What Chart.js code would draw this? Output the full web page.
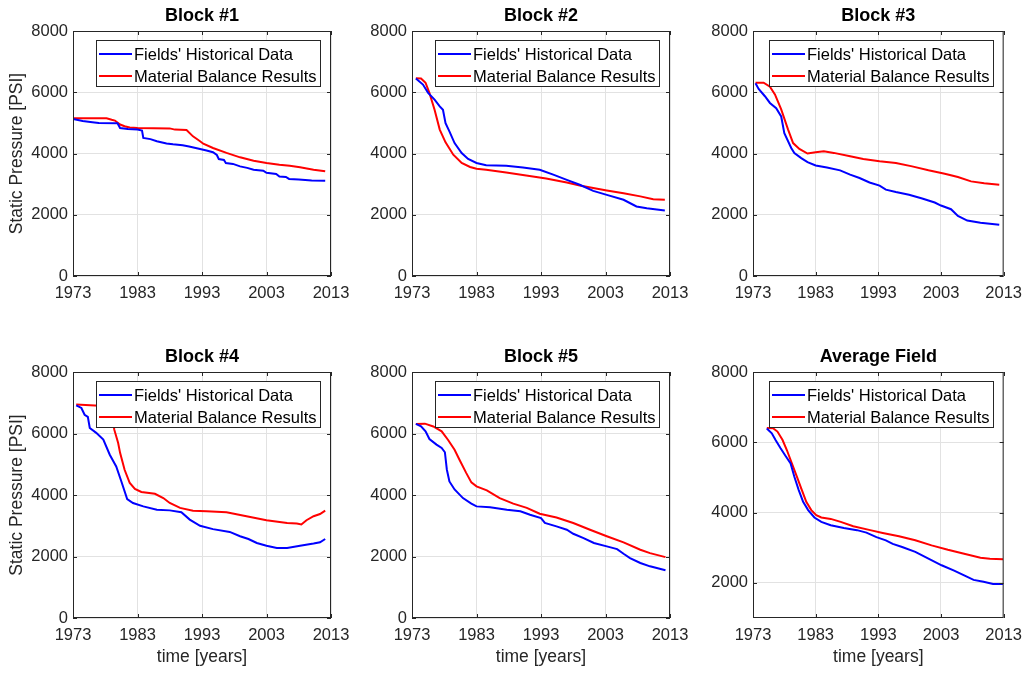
<!DOCTYPE html>
<html>
<head>
<meta charset="utf-8">
<script src="https://cdn.jsdelivr.net/npm/chart.js@4.4.1/dist/chart.umd.min.js"></script>
<style>
  html, body { margin: 0; padding: 0; background: #fff; overflow: hidden; }
  #figure { position: relative; width: 1030px; height: 673px; }
  #figure canvas { position: absolute; left: 0; top: 0; }
</style>
</head>
<body>
<div id="figure"></div>
<script>
const yearTicks = [1973, 1983, 1993, 2003, 2013];
const psiTicks = [0, 2000, 4000, 6000, 8000];
const psiTicksAvg = [2000, 4000, 6000, 8000];
const seriesNames = ["Fields' Historical Data", "Material Balance Results"];
const panelTitles = ["Block #1", "Block #2", "Block #3", "Block #4", "Block #5", "Average Field"];

// Block #1
const block1HistYears = [1973.0, 1974.5, 1976.0, 1977.0, 1979.9, 1980.3, 1981.5, 1983.0, 1983.7, 1983.9, 1985.0, 1986.0, 1987.5, 1988.5, 1990.0, 1991.0, 1992.7, 1993.7, 1994.7, 1995.3, 1995.6, 1996.4, 1996.7, 1997.8, 1998.9, 2000.0, 2001.0, 2002.5, 2003.0, 2004.5, 2005.0, 2006.0, 2006.5, 2008.0, 2010.0, 2012.1];
const block1HistPsi = [5130, 5060, 5020, 4995, 4990, 4830, 4800, 4780, 4750, 4510, 4470, 4400, 4330, 4300, 4270, 4230, 4150, 4100, 4040, 3950, 3820, 3790, 3690, 3660, 3580, 3530, 3470, 3440, 3370, 3330, 3250, 3235, 3170, 3150, 3120, 3110];
const block1MbYears = [1973.0, 1978.2, 1979.0, 1979.5, 1980.3, 1981.0, 1981.8, 1983.0, 1988.0, 1988.8, 1990.6, 1991.6, 1992.7, 1993.2, 1994.7, 1996.8, 1998.9, 2001.0, 2003.0, 2005.0, 2006.6, 2008.2, 2010.3, 2012.1];
const block1MbPsi = [5150, 5150, 5100, 5075, 4945, 4890, 4850, 4835, 4820, 4780, 4770, 4560, 4400, 4320, 4180, 4020, 3875, 3765, 3690, 3635, 3600, 3550, 3470, 3420];

// Block #2
const block2HistYears = [1973.6, 1974.7, 1975.5, 1976.5, 1977.3, 1977.8, 1978.2, 1978.8, 1979.6, 1980.7, 1981.7, 1983.0, 1984.5, 1987.6, 1990.2, 1992.8, 1994.9, 1997.0, 1999.0, 2001.1, 2003.2, 2005.8, 2007.8, 2009.4, 2012.2];
const block2HistPsi = [6450, 6250, 5980, 5760, 5540, 5430, 4990, 4720, 4340, 4015, 3820, 3690, 3620, 3600, 3545, 3470, 3310, 3140, 2980, 2780, 2650, 2490, 2270, 2210, 2140];
const block2MbYears = [1973.6, 1974.4, 1975.1, 1975.7, 1976.5, 1977.3, 1978.2, 1979.4, 1980.7, 1982.0, 1983.0, 1984.5, 1987.6, 1990.7, 1993.8, 1997.0, 1999.0, 2001.1, 2003.2, 2005.8, 2008.4, 2010.4, 2012.2];
const block2MbPsi = [6460, 6450, 6310, 5980, 5430, 4780, 4365, 3960, 3690, 3560, 3500, 3470, 3380, 3285, 3185, 3055, 2955, 2870, 2795, 2705, 2600, 2510, 2490];

// Block #3
const block3HistYears = [1973.4, 1973.9, 1974.9, 1975.7, 1976.7, 1977.5, 1978.0, 1979.1, 1979.6, 1980.7, 1981.7, 1983.0, 1984.8, 1986.9, 1988.5, 1990.0, 1991.6, 1993.2, 1994.2, 1995.8, 1997.9, 2000.0, 2002.0, 2003.0, 2004.6, 2005.7, 2007.2, 2009.3, 2012.3];
const block3HistPsi = [6290, 6110, 5870, 5650, 5480, 5210, 4660, 4180, 4015, 3850, 3720, 3610, 3545, 3450, 3310, 3200, 3055, 2950, 2820, 2740, 2650, 2530, 2400, 2300, 2180, 1960, 1810, 1740, 1670];
const block3MbYears = [1973.4, 1974.7, 1975.7, 1976.5, 1977.5, 1978.6, 1979.4, 1980.4, 1981.7, 1983.0, 1984.3, 1985.9, 1988.5, 1990.6, 1993.2, 1995.8, 1998.4, 2001.0, 2003.6, 2005.7, 2007.8, 2009.9, 2012.3];
const block3MbPsi = [6310, 6310, 6180, 5930, 5440, 4780, 4340, 4150, 4000, 4040, 4070, 4020, 3910, 3820, 3745, 3690, 3580, 3450, 3340, 3230, 3090, 3030, 2980];

// Block #4
const block4HistYears = [1973.5, 1974.3, 1974.8, 1975.3, 1975.6, 1976.6, 1977.7, 1978.7, 1979.7, 1980.5, 1981.4, 1982.3, 1983.9, 1986.0, 1988.0, 1989.8, 1991.1, 1992.7, 1994.7, 1997.3, 1998.9, 2000.2, 2001.5, 2003.0, 2004.6, 2006.2, 2008.2, 2010.3, 2011.3, 2012.1];
const block4HistPsi = [6916, 6830, 6610, 6540, 6180, 6020, 5800, 5310, 4930, 4440, 3870, 3740, 3630, 3520, 3500, 3440, 3200, 3000, 2890, 2800, 2660, 2570, 2440, 2350, 2280, 2280, 2350, 2420, 2460, 2570];
const block4MbYears = [1973.5, 1977.1, 1978.4, 1979.0, 1979.4, 1980.0, 1980.3, 1981.0, 1981.8, 1982.6, 1983.6, 1985.7, 1987.0, 1988.0, 1989.6, 1991.6, 1993.7, 1996.8, 1999.9, 2003.0, 2006.2, 2007.7, 2008.4, 2009.2, 2010.3, 2011.3, 2012.1];
const block4MbPsi = [6940, 6905, 6880, 6700, 6125, 5690, 5370, 4820, 4390, 4200, 4100, 4040, 3900, 3740, 3580, 3490, 3470, 3440, 3310, 3180, 3090, 3070, 3040, 3180, 3310, 3380, 3490];

// Block #5
const block5HistYears = [1973.6, 1974.4, 1975.1, 1975.7, 1976.8, 1977.6, 1978.1, 1978.4, 1978.8, 1979.6, 1980.9, 1982.2, 1983.0, 1985.1, 1987.7, 1989.8, 1991.3, 1993.0, 1993.6, 1995.4, 1997.0, 1998.0, 1999.6, 2001.2, 2003.2, 2004.8, 2005.8, 2006.8, 2008.4, 2009.9, 2012.3];
const block5HistPsi = [6310, 6230, 6070, 5820, 5640, 5530, 5390, 4830, 4440, 4180, 3900, 3720, 3630, 3600, 3520, 3470, 3360, 3250, 3090, 2980, 2870, 2740, 2600, 2440, 2330, 2240, 2090, 1950, 1790, 1680, 1550];
const block5MbYears = [1973.6, 1975.0, 1976.3, 1977.6, 1978.6, 1979.6, 1980.4, 1981.4, 1982.2, 1983.0, 1984.6, 1986.6, 1988.7, 1990.8, 1992.8, 1995.4, 1998.0, 2000.6, 2003.2, 2005.8, 2008.4, 2009.9, 2012.3];
const block5MbPsi = [6310, 6320, 6230, 6070, 5790, 5470, 5130, 4720, 4410, 4280, 4150, 3900, 3720, 3580, 3390, 3270, 3090, 2870, 2660, 2460, 2220, 2110, 1980];

// Average Field
const avgHistYears = [1975.2, 1976.0, 1976.6, 1977.4, 1978.2, 1979.0, 1979.6, 1980.3, 1981.0, 1981.8, 1982.8, 1983.9, 1985.4, 1987.5, 1989.6, 1991.1, 1992.7, 1994.2, 1995.3, 1996.8, 1998.9, 2001.0, 2003.1, 2005.1, 2006.7, 2008.2, 2009.8, 2011.3, 2012.9];
const avgHistPsi = [6390, 6257, 6067, 5830, 5610, 5400, 5020, 4640, 4305, 4070, 3860, 3735, 3640, 3560, 3500, 3430, 3300, 3210, 3110, 3020, 2880, 2690, 2500, 2350, 2210, 2085, 2030, 1970, 1970];
const avgMbYears = [1975.2, 1976.2, 1976.9, 1977.7, 1978.4, 1979.2, 1980.0, 1980.8, 1981.5, 1982.3, 1983.1, 1983.9, 1985.4, 1987.0, 1989.0, 1991.7, 1993.7, 1996.3, 1998.9, 2001.5, 2004.1, 2006.7, 2009.3, 2010.8, 2012.9];
const avgMbPsi = [6410, 6400, 6305, 6070, 5780, 5400, 5020, 4640, 4305, 4070, 3925, 3860, 3820, 3735, 3610, 3500, 3420, 3325, 3210, 3067, 2940, 2830, 2715, 2685, 2675];

const panelSeries = [
    [block1HistYears, block1HistPsi, block1MbYears, block1MbPsi],
    [block2HistYears, block2HistPsi, block2MbYears, block2MbPsi],
    [block3HistYears, block3HistPsi, block3MbYears, block3MbPsi],
    [block4HistYears, block4HistPsi, block4MbYears, block4MbPsi],
    [block5HistYears, block5HistPsi, block5MbYears, block5MbPsi],
    [avgHistYears, avgHistPsi, avgMbYears, avgMbPsi]
];

// plot-box edges in page pixels
const columns = [{ left: 73, right: 331 }, { left: 412, right: 670 }, { left: 753, right: 1009 }];
const rows = [{ top: 31, bottom: 276 }, { top: 372, bottom: 618 }];

const AXIS_COLOR = "#262626";
const GRID_COLOR = "#e2e2e2";
const FONT = '"Liberation Sans", Arial, Helvetica, sans-serif';

Chart.defaults.font.family = FONT;
Chart.defaults.color = AXIS_COLOR;

// MATLAB-like box: frame, inward ticks, title, inset legend
const matlabFrame = {
    id: "matlabFrame",
    afterDraw(chart, args, opts) {
        const { ctx, chartArea, scales } = chart;
        const { left, right, top, bottom } = chartArea;
        ctx.save();

        ctx.strokeStyle = AXIS_COLOR;
        ctx.lineWidth = 1;
        ctx.beginPath();
        scales.x.ticks.forEach((t) => {
            const px = Math.round(scales.x.getPixelForValue(t.value)) + 0.5;
            ctx.moveTo(px, bottom);
            ctx.lineTo(px, bottom - 4);
            ctx.moveTo(px, top);
            ctx.lineTo(px, top + 4);
        });
        scales.y.ticks.forEach((t) => {
            const py = Math.round(scales.y.getPixelForValue(t.value)) + 0.5;
            ctx.moveTo(left, py);
            ctx.lineTo(left + 4, py);
            ctx.moveTo(right, py);
            ctx.lineTo(right - 4, py);
        });
        ctx.stroke();
        ctx.strokeRect(left + 0.5, top + 0.5, right - left - 1, bottom - top - 1);

        // title
        ctx.fillStyle = "#000";
        ctx.font = `bold 18px ${FONT}`;
        ctx.textAlign = "center";
        ctx.textBaseline = "middle";
        ctx.fillText(opts.title, (left + right) / 2, top - 15);

        // legend
        ctx.font = `16.5px ${FONT}`;
        const datasets = chart.data.datasets;
        const textW = Math.max(...datasets.map((d) => ctx.measureText(d.label).width));
        const boxW = Math.round(38 + textW + 4);
        const boxH = 46;
        const bx = Math.round(right - 11 - boxW);
        const by = Math.round(top + 9);
        ctx.fillStyle = "#fff";
        ctx.fillRect(bx, by, boxW, boxH);
        ctx.strokeStyle = AXIS_COLOR;
        ctx.strokeRect(bx + 0.5, by + 0.5, boxW, boxH);
        ctx.textAlign = "left";
        datasets.forEach((ds, i) => {
            const cy = by + 14 + i * 22;
            ctx.strokeStyle = ds.borderColor;
            ctx.lineWidth = 2;
            ctx.beginPath();
            ctx.moveTo(bx + 3, cy);
            ctx.lineTo(bx + 36, cy);
            ctx.stroke();
            ctx.fillStyle = "#000";
            ctx.fillText(ds.label, bx + 38, cy + 1);
        });
        ctx.restore();
    }
};

function toPoints(years, psi) {
    return years.map((x, i) => ({ x, y: psi[i] }));
}

function renderPanel(index) {
    const col = columns[index % 3];
    const row = rows[Math.floor(index / 3)];
    const isLeft = index % 3 === 0;
    const isBottom = index >= 3;
    const isAverage = index === 5;
    const yWidth = isLeft ? col.left : 60;
    const xHeight = isBottom ? 50 : 40;
    const [histYears, histPsi, mbYears, mbPsi] = panelSeries[index];

    const canvas = document.createElement("canvas");
    canvas.width = 1030;
    canvas.height = 673;
    document.getElementById("figure").appendChild(canvas);

    new Chart(canvas, {
        type: "line",
        data: {
            datasets: [
                { label: seriesNames[0], data: toPoints(histYears, histPsi), borderColor: "#0000ff", borderWidth: 2, pointRadius: 0, tension: 0 },
                { label: seriesNames[1], data: toPoints(mbYears, mbPsi), borderColor: "#ff0000", borderWidth: 2, pointRadius: 0, tension: 0 }
            ]
        },
        options: {
            responsive: false,
            animation: false,
            events: [],
            layout: {
                padding: {
                    left: col.left - yWidth,
                    right: 1030 - col.right,
                    top: row.top,
                    bottom: 673 - row.bottom - xHeight
                }
            },
            plugins: {
                legend: { display: false },
                tooltip: { enabled: false },
                matlabFrame: { title: panelTitles[index] }
            },
            scales: {
                x: {
                    type: "linear",
                    min: 1973,
                    max: 2013,
                    afterBuildTicks: (scale) => { scale.ticks = yearTicks.map((v) => ({ value: v })); },
                    afterFit: (scale) => { scale.height = xHeight; },
                    ticks: { padding: 8, font: { size: 16.5 }, color: AXIS_COLOR, maxRotation: 0, callback: (v) => String(v) },
                    grid: { color: GRID_COLOR, drawTicks: false },
                    border: { display: false },
                    title: { display: isBottom, text: "time [years]", font: { size: 17.5 }, color: AXIS_COLOR, padding: { top: 0, bottom: 0 } }
                },
                y: {
                    min: isAverage ? 1000 : 0,
                    max: 8000,
                    afterBuildTicks: (scale) => { scale.ticks = (isAverage ? psiTicksAvg : psiTicks).map((v) => ({ value: v })); },
                    afterFit: (scale) => { scale.width = yWidth; },
                    ticks: { padding: 5, font: { size: 16.5 }, color: AXIS_COLOR, callback: (v) => String(v) },
                    grid: { color: GRID_COLOR, drawTicks: false },
                    border: { display: false },
                    title: { display: isLeft, text: "Static Pressure [PSI]", font: { size: 17.5 }, color: AXIS_COLOR, padding: { top: 7, bottom: 0 } }
                }
            }
        },
        plugins: [matlabFrame]
    });
}

panelTitles.forEach((title, i) => renderPanel(i));
</script>
</body>
</html>
